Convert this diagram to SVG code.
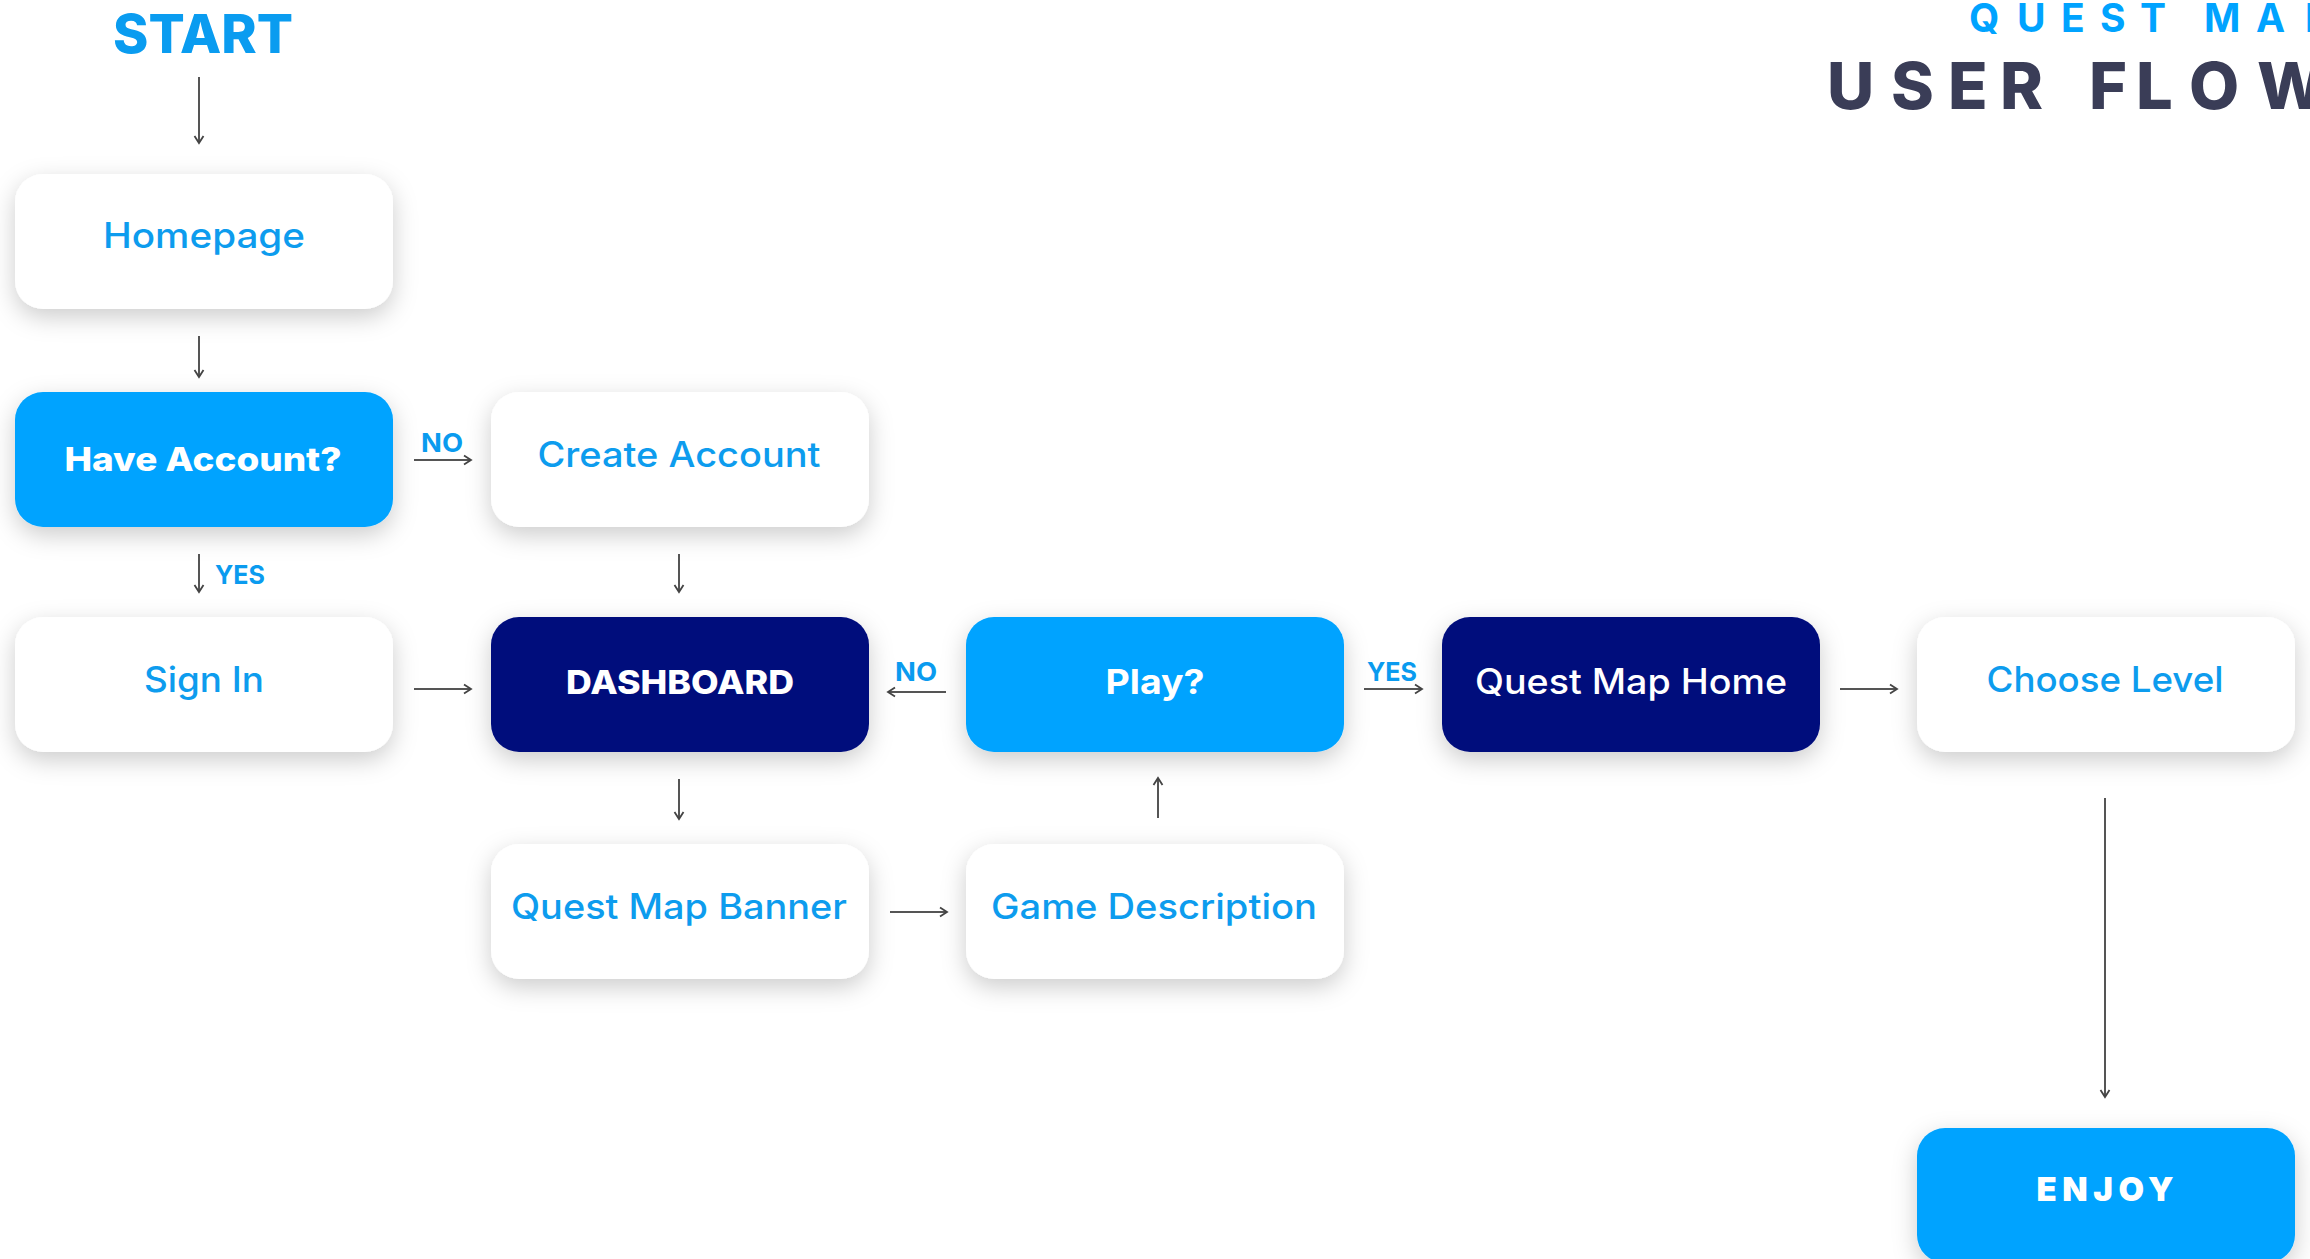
<svg xmlns="http://www.w3.org/2000/svg" width="2310" height="1259" viewBox="0 0 2310 1259">
<defs>
<style>
.box-w{fill:#ffffff;}
.box-b{fill:#00A3FF;}
.box-n{fill:#000C7C;}
.t{font-family:Inter,"Liberation Sans",sans-serif;text-anchor:middle;}
.tw{fill:#0D9CEE;font-size:35px;font-weight:500;}
.tc{fill:#ffffff;}
.lbl{font-family:Inter,"Liberation Sans",sans-serif;fill:#0A9BEF;font-size:26px;font-weight:700;text-anchor:middle;}
.conn{stroke:#555555;stroke-width:2;fill:none;marker-end:url(#ah);}
</style>
<marker id="ah" markerUnits="userSpaceOnUse" markerWidth="14" markerHeight="14" refX="9" refY="6" orient="auto">
<path d="M2,1.5 L9,6 L2,10.5" fill="none" stroke="#444444" stroke-width="1.8"/>
</marker>
<filter id="sh" x="-20%" y="-40%" width="140%" height="190%">
<feDropShadow dx="0" dy="8" stdDeviation="12" flood-color="#000000" flood-opacity="0.2"/>
</filter>
</defs>
<rect width="2310" height="1259" fill="#ffffff"/>

<g id="title">
<text font-family="Inter,'Liberation Sans',sans-serif" font-size="39" font-weight="700" fill="#00A3FF" y="32" x="1969 2017 2061 2100 2140 2170 2204 2256 2305">QUEST MAP</text>
<text font-family="Inter,'Liberation Sans',sans-serif" font-size="65" font-weight="800" fill="#3A3D57" y="109" x="1827 1891 1948 2000 2050 2089 2136 2189 2257">USER FLOW</text>
</g>

<g id="start">
<text class="t" x="203" y="53" font-size="54" font-weight="800" fill="#0A9CF0" textLength="180" lengthAdjust="spacingAndGlyphs">START</text>
</g>

<g id="connectors">
<line class="conn" x1="199" y1="77" x2="199" y2="143"/>
<line class="conn" x1="199" y1="336" x2="199" y2="377"/>
<line class="conn" x1="414" y1="460" x2="471" y2="460"/>
<line class="conn" x1="199" y1="554" x2="199" y2="592"/>
<line class="conn" x1="679" y1="554" x2="679" y2="592"/>
<line class="conn" x1="414" y1="689" x2="471" y2="689"/>
<line class="conn" x1="946" y1="692" x2="888" y2="692"/>
<line class="conn" x1="1364" y1="689" x2="1422" y2="689"/>
<line class="conn" x1="1840" y1="689" x2="1897" y2="689"/>
<line class="conn" x1="679" y1="779" x2="679" y2="819"/>
<line class="conn" x1="890" y1="912" x2="947" y2="912"/>
<line class="conn" x1="1158" y1="818" x2="1158" y2="778"/>
<line class="conn" x1="2105" y1="798" x2="2105" y2="1097"/>
<text class="lbl" x="442" y="452" textLength="42" lengthAdjust="spacingAndGlyphs">NO</text>
<text class="lbl" x="240" y="584" textLength="50" lengthAdjust="spacingAndGlyphs">YES</text>
<text class="lbl" x="916" y="681" textLength="42" lengthAdjust="spacingAndGlyphs">NO</text>
<text class="lbl" x="1392" y="681" textLength="50" lengthAdjust="spacingAndGlyphs">YES</text>
</g>

<g id="homepage">
<rect class="box-w" x="15" y="174" width="378" height="135" rx="28" filter="url(#sh)"/>
<text class="t tw" x="204" y="248" textLength="202" lengthAdjust="spacingAndGlyphs">Homepage</text>
</g>
<g id="have-account">
<rect class="box-b" x="15" y="392" width="378" height="135" rx="28" filter="url(#sh)"/>
<text class="t tc" x="203" y="471" font-size="33" font-weight="800" textLength="277" lengthAdjust="spacingAndGlyphs">Have Account?</text>
</g>
<g id="create-account">
<rect class="box-w" x="491" y="392" width="378" height="135" rx="28" filter="url(#sh)"/>
<text class="t tw" x="679" y="467" textLength="283" lengthAdjust="spacingAndGlyphs">Create Account</text>
</g>
<g id="sign-in">
<rect class="box-w" x="15" y="617" width="378" height="135" rx="28" filter="url(#sh)"/>
<text class="t tw" x="204" y="692" textLength="120" lengthAdjust="spacingAndGlyphs">Sign In</text>
</g>
<g id="dashboard">
<rect class="box-n" x="491" y="617" width="378" height="135" rx="28" filter="url(#sh)"/>
<text class="t tc" x="680" y="694" font-size="33" font-weight="800" textLength="228" lengthAdjust="spacingAndGlyphs">DASHBOARD</text>
</g>
<g id="play">
<rect class="box-b" x="966" y="617" width="378" height="135" rx="28" filter="url(#sh)"/>
<text class="t tc" x="1155" y="694" font-size="34" font-weight="700" textLength="99" lengthAdjust="spacingAndGlyphs">Play?</text>
</g>
<g id="quest-map-home">
<rect class="box-n" x="1442" y="617" width="378" height="135" rx="28" filter="url(#sh)"/>
<text class="t tc" x="1631" y="694" font-size="35" font-weight="500" textLength="312" lengthAdjust="spacingAndGlyphs">Quest Map Home</text>
</g>
<g id="choose-level">
<rect class="box-w" x="1917" y="617" width="378" height="135" rx="28" filter="url(#sh)"/>
<text class="t tw" x="2105" y="692" textLength="237" lengthAdjust="spacingAndGlyphs">Choose Level</text>
</g>
<g id="quest-map-banner">
<rect class="box-w" x="491" y="844" width="378" height="135" rx="28" filter="url(#sh)"/>
<text class="t tw" x="679" y="919" textLength="336" lengthAdjust="spacingAndGlyphs">Quest Map Banner</text>
</g>
<g id="game-description">
<rect class="box-w" x="966" y="844" width="378" height="135" rx="28" filter="url(#sh)"/>
<text class="t tw" x="1154" y="919" textLength="326" lengthAdjust="spacingAndGlyphs">Game Description</text>
</g>
<g id="enjoy">
<rect class="box-b" x="1917" y="1128" width="378" height="135" rx="28" filter="url(#sh)"/>
<text class="t tc" x="2105" y="1201" font-size="33" font-weight="900" textLength="137" lengthAdjust="spacing">ENJOY</text>
</g>
</svg>
